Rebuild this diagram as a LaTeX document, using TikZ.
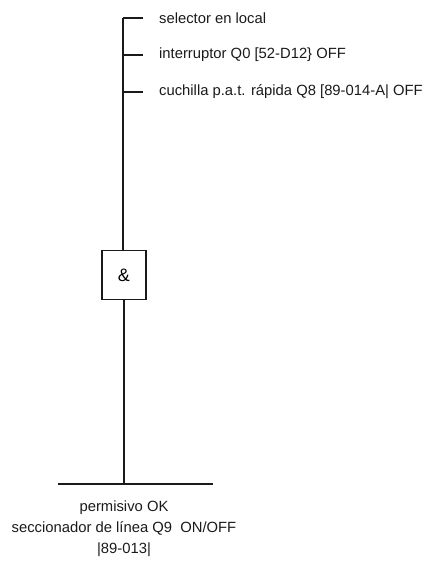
\documentclass[tikz,border=0pt]{standalone}
\usepackage{fontspec}
\setmainfont{Liberation Sans}
\usetikzlibrary{positioning,calc}
\definecolor{Ink}{HTML}{1A1A1A}

\begin{document}
\begin{tikzpicture}[x=1pt,y=1pt,
  wire/.style={Ink,line width=1.4pt},
  lbl/.style={font=\fontsize{14.8}{21}\selectfont,text=Ink,inner sep=0pt},
  gate/.style={draw=Ink,line width=1.2pt,minimum width=44pt,minimum height=49pt,inner sep=0pt,font=\fontsize{18}{20}\selectfont}]
\useasboundingbox (0,0) rectangle (430,565);
% inputs
\coordinate (t1) at (123,547);
\coordinate (t2) at (123,510);
\coordinate (t3) at (123,473);
\coordinate (e1) at (143,547);
\coordinate (e2) at (143,510);
\coordinate (e3) at (143,473);
\node[lbl,anchor=west] (sel) at (159,547) {selector en local};
\node[lbl,anchor=west] (int) at (159,510) {interruptor Q0 [52-D12\} OFF};
\node[lbl,anchor=west] (cuc) at (159,473) {cuchilla p.a.t. rápida Q8 [89-014-A| OFF};
\draw[wire] (t1) -- (e1);
\draw[wire] (t2) -- (e2);
\draw[wire] (t3) -- (e3);
% gate
\node[gate] (and) at (124,290) {\&};
\draw[wire] (t1) -- (t1 |- and.north);
% output
\coordinate (bus) at (124,81);
\coordinate (bl) at (58,81);
\coordinate (br) at (213,81);
\draw[wire] (and.south) -- (bus);
\draw[wire] (bl) -- (br);
\node[lbl,align=center,anchor=north] (out) at (124,64) {permisivo OK\\seccionador de línea Q9\ \ ON/OFF\\|89-013|};
\end{tikzpicture}
\end{document}
